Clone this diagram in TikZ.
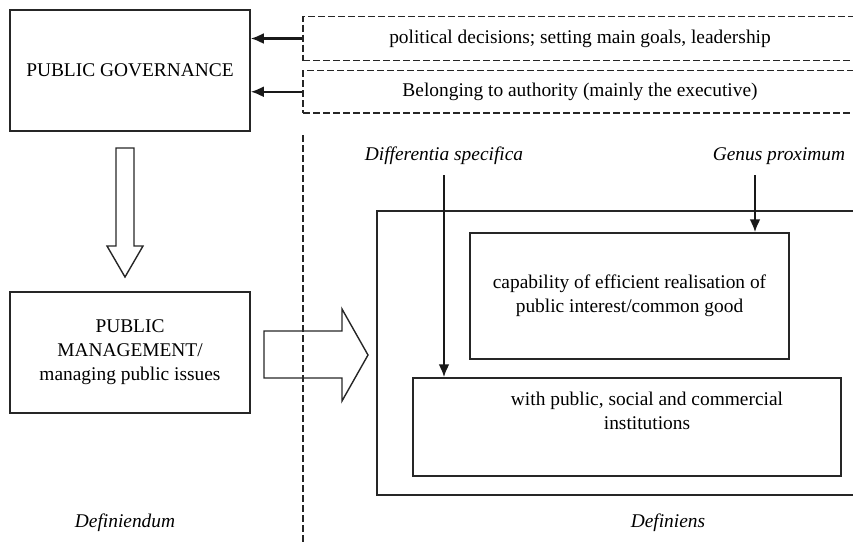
\documentclass[tikz,border=0pt]{standalone}
\usepackage{fontspec}
\setmainfont{Liberation Serif}
\usetikzlibrary{arrows.meta}
\begin{document}
\begin{tikzpicture}[x=0.5pt,y=-0.5pt,
  txt/.style={font=\fontsize{9.7}{12}\selectfont, align=center, inner sep=0pt},
  box/.style={draw=black!85, line width=0.75pt, inner sep=0pt, txt},
  dbox/.style={draw=black!85, dash pattern=on 3.5pt off 1.5pt, line width=0.7pt, inner sep=0pt, txt},
  dline/.style={draw=black!85, dash pattern=on 3.5pt off 1.5pt, line width=0.7pt},
  arr/.style={draw=black!90, line width=1.1pt, -{Latex[length=6.5pt,width=5.5pt]}},
  blockarrow/.style={draw=black!85, line width=0.7pt, line join=miter},
  lbl/.style={inner sep=0pt, font=\fontsize{9.7}{12}\selectfont\itshape}]
\useasboundingbox (0,0) rectangle (853,542);

% left column
\node[box, minimum width=120pt, minimum height=60.5pt] (gov) at (130,70.5) {PUBLIC GOVERNANCE};
\node[box, minimum width=120pt, minimum height=60.5pt] (mgmt) at (130,352.5) {PUBLIC\\MANAGEMENT/\\managing public issues};

% dashed boxes
\node[dbox, minimum width=277pt, minimum height=22pt] (d1) at (580,38.5) {political decisions; setting main goals, leadership};
\node[dbox, minimum width=277pt, minimum height=21.25pt] (d2) at (580,91.75) {Belonging to authority (mainly the executive)};
\draw[arr] (d1.west) -- (d1.west -| gov.east);
\draw[arr] (d2.west) -- (d2.west -| gov.east);

% vertical dashed separator
\coordinate (vtop) at (303,135);
\coordinate (vbot) at (303,545);
\draw[dline] (vtop) -- (vbot);

% block arrows
\draw[blockarrow] (116,148) -- (134,148) -- (134,246) -- (143,246) -- (125,277) -- (107,246) -- (116,246) -- cycle;
\draw[blockarrow] (264,331) -- (342,331) -- (342,309) -- (368,355) -- (342,401) -- (342,378) -- (264,378) -- cycle;

% definiens boxes
\node[box, minimum width=241.5pt, minimum height=142pt] (defbox) at (618.5,353) {};
\node[box, minimum width=159.5pt, minimum height=63pt] (box1) at (629.5,296) {capability of efficient realisation of\\public interest/common good};
\node[box, minimum width=214pt, minimum height=49pt] (box2) at (627,427) {};
\node[txt] (box2text) at (647,411) {with public, social and commercial\\institutions};

% labels and arrows
\node[lbl] (diff) at (444,156) {Differentia specifica};
\node[lbl] (genus) at (779,156) {Genus proximum};
\coordinate (dstart) at (444,175);
\coordinate (gstart) at (755,175);
\draw[arr] (dstart) -- (dstart |- box2.north);
\draw[arr] (gstart) -- (gstart |- box1.north);

\node[lbl] (dfd) at (125,523) {Definiendum};
\node[lbl] (dfs) at (668,523) {Definiens};
\end{tikzpicture}
\end{document}
